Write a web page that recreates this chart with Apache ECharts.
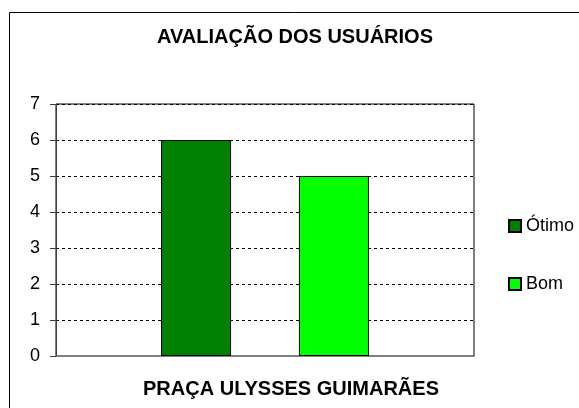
<!DOCTYPE html>
<html>
<head>
<meta charset="utf-8">
<script src="https://cdn.jsdelivr.net/npm/echarts@6/dist/echarts.min.js"></script>
<style>
  html, body { margin: 0; padding: 0; background: #fff; }
  #myChart { width: 579px; height: 408px; }
</style>
</head>
<body>
<div id="myChart"></div>
<script>
// dados do gráfico
var categorias = ["PRAÇA ULYSSES GUIMARÃES"];
var otimo = [6];
var bom = [5];
var ticksY = [0, 1, 2, 3, 4, 5, 6, 7];

var myChart = echarts.init(document.getElementById("myChart"));
myChart.setOption({
  animation: false,
  textStyle: { fontFamily: "Liberation Sans, Arial, sans-serif" },
  title: [
    {
      text: "AVALIAÇÃO DOS USUÁRIOS",
      left: 290,
      textAlign: "center",
      top: 20,
      textStyle: { fontSize: 20, fontWeight: "bold", color: "#000", lineHeight: 24 }
    },
    {
      // rótulo do eixo x
      text: categorias[0],
      left: 286,
      textAlign: "center",
      top: 372,
      textStyle: { fontSize: 20, fontWeight: "bold", color: "#000", lineHeight: 24 }
    }
  ],
  graphic: [{
    type: "rect",
    left: 7, top: 10,
    shape: { width: 620, height: 420 },
    style: { fill: "none", stroke: "#000", lineWidth: 1 },
    silent: true
  }],
  legend: {
    orient: "vertical",
    left: 503,
    top: 212,
    itemGap: 40,
    itemWidth: 12,
    itemHeight: 12,
    icon: "rect",
    textStyle: { fontSize: 18, color: "#000", lineHeight: 18, padding: [0, 0, 0, 0] },
    data: ["Ótimo", "Bom"]
  },
  grid: {
    left: 56, top: 104, right: 105, bottom: 52,
    show: true,
    borderColor: "#000",
    borderWidth: 1
  },
  xAxis: {
    type: "category",
    data: categorias,
    axisLabel: { show: false },
    axisTick: { show: false },
    axisLine: { lineStyle: { color: "#808080", type: "dashed" } }
  },
  yAxis: {
    type: "value",
    min: ticksY[0],
    max: ticksY[ticksY.length - 1],
    interval: 1,
    axisLine: { show: true, lineStyle: { color: "#404040", width: 1 } },
    axisTick: { show: true, length: 6, lineStyle: { color: "#404040" } },
    axisLabel: { fontSize: 18, color: "#000", margin: 16 },
    splitLine: { lineStyle: { color: "#000", type: [3, 3], width: 1 } }
  },
  series: [
    {
      name: "Ótimo",
      type: "bar",
      data: otimo,
      barWidth: 70,
      barGap: "97%",
      itemStyle: { color: "#008000", borderColor: "#000", borderWidth: 1 }
    },
    {
      name: "Bom",
      type: "bar",
      data: bom,
      barWidth: 70,
      itemStyle: { color: "#00ff00", borderColor: "#000", borderWidth: 1 }
    }
  ]
});
</script>
</body>
</html>
